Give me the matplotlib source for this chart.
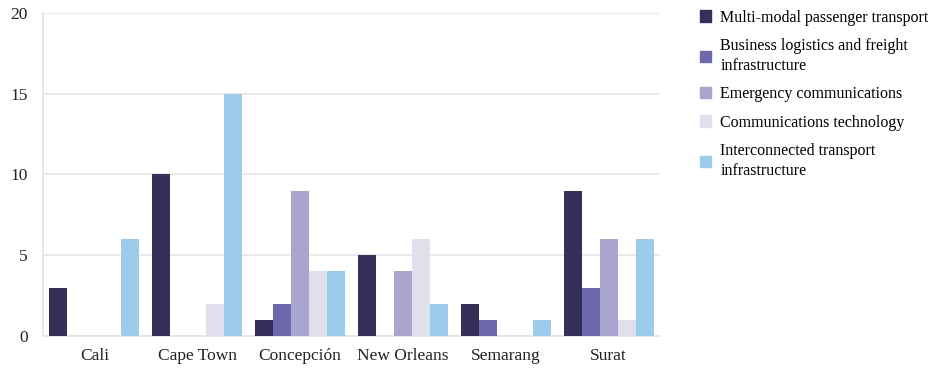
import numpy as np
import matplotlib.pyplot as plt
from matplotlib.patches import Patch

plt.rcParams['font.family'] = ['Liberation Serif', 'DejaVu Serif']

cities = ['Cali', 'Cape Town', 'Concepción', 'New Orleans', 'Semarang', 'Surat']
series_names = ['Multi-modal passenger transport',
                'Business logistics and freight\ninfrastructure',
                'Emergency communications',
                'Communications technology',
                'Interconnected transport\ninfrastructure']
multi_modal = [3, 10, 1, 5, 2, 9]
business_logistics = [0, 0, 2, 0, 1, 3]
emergency_comms = [0, 0, 9, 4, 0, 6]
comms_tech = [0, 2, 4, 6, 0, 1]
interconnected = [6, 15, 4, 2, 1, 6]
colors = ['#35305a', '#6e69ad', '#a9a5cf', '#e0dfee', '#9dcbec']

values = [multi_modal, business_logistics, emergency_comms, comms_tech, interconnected]

fig = plt.figure(figsize=(9.38, 3.68), dpi=100)
ax = fig.add_axes([43/938, 32/368, (660-43)/938, (336-13)/368])

x = np.arange(len(cities))
w = 0.175
for i, vals in enumerate(values):
    ax.bar(x + (i - 2) * w, vals, width=w, color=colors[i], zorder=3)

ax.set_xlim(-0.5, len(cities) - 0.5)
ax.set_ylim(0, 20)
ax.set_yticks([0, 5, 10, 15, 20])
ax.set_xticks(x)
ax.set_xticklabels(cities)
ax.yaxis.grid(True, color='#e6e6e6', linewidth=1.2, zorder=0)
for s in ['top', 'right']:
    ax.spines[s].set_visible(False)
for s in ['left', 'bottom']:
    ax.spines[s].set_color('#e3e3e3')
    ax.spines[s].set_linewidth(1.2)
ax.tick_params(axis='both', length=0, labelsize=12.5, colors='#222222')
ax.tick_params(axis='y', pad=11)
ax.tick_params(axis='x', pad=9)

handles = [Patch(color=c) for c in colors]
leg = fig.legend(handles, series_names, loc='upper left', bbox_to_anchor=(690/938, 1.0),
                 frameon=False, fontsize=11.5, handlelength=0.7, handleheight=0.7,
                 handletextpad=0.6, labelspacing=0.78, borderaxespad=0.2)
for t in leg.get_texts():
    t.set_linespacing(1.3)

fig.savefig('out.png', dpi=100)
